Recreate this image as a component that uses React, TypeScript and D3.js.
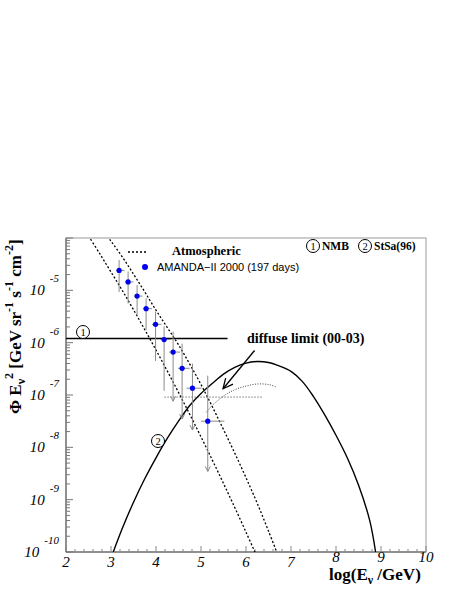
import * as d3 from "d3";

const W = 460;
const H = 595;
const frame = { left: 66, right: 426, top: 238, bottom: 552 };

const xTickValues = [2, 3, 4, 5, 6, 7, 8, 9, 10];
const xTickRaised = [8, 9, 10];
const yTickExp = [-10, -9, -8, -7, -6, -5];

// AMANDA-II 2000 points, log10(E/GeV) and log10(flux)
const amLogE = [3.18, 3.38, 3.58, 3.78, 3.99, 4.18, 4.38, 4.58, 4.81, 5.15];
const amLogElo = [3.11, 3.31, 3.51, 3.71, 3.91, 4.1, 4.29, 4.49, 4.68, 5.0];
const amLogEhi = [3.3, 3.5, 3.7, 3.91, 4.12, 4.33, 4.54, 4.75, 5.01, 5.52];
const amLogF = [-4.62, -4.84, -5.11, -5.35, -5.65, -5.94, -6.18, -6.49, -6.87, -7.5];
const amLogFup = [-4.42, -4.64, -4.9, -5.15, -5.41, -5.69, -5.79, -6.02, -6.4, -6.63];
const amLogFdown = [-5.03, -5.25, -5.48, -5.76, -6.35, -6.92, -7.12, -7.46, -7.67, -8.46];
const amArrow = [false, false, false, false, false, false, true, true, true, true];

// atmospheric band (two dashed curves)
const atmLowE = [2.5, 2.75, 3.0, 3.25, 3.5, 3.75, 4.0, 4.25, 4.5, 4.75, 5.0, 5.25, 5.5, 5.75, 6.0, 6.25];
const atmLowF = [-3.96, -4.3, -4.65, -5.0, -5.37, -5.75, -6.14, -6.54, -6.95, -7.37, -7.8, -8.24, -8.69, -9.15, -9.62, -10.1];
const atmHighE = [2.75, 3.0, 3.25, 3.5, 3.75, 4.0, 4.25, 4.5, 4.75, 5.0, 5.25, 5.5, 5.75, 6.0, 6.25, 6.5, 6.75];
const atmHighF = [-3.78, -4.06, -4.36, -4.69, -5.03, -5.38, -5.71, -6.04, -6.41, -6.8, -7.22, -7.66, -8.11, -8.58, -9.07, -9.6, -10.15];

// StSa(96) model
const stsaE = [3.05, 3.25, 3.5, 3.75, 4.0, 4.25, 4.5, 4.75, 5.0, 5.25, 5.5, 5.75, 6.0, 6.25, 6.5, 6.75, 7.0, 7.25, 7.5, 7.75, 8.0, 8.25, 8.5, 8.75, 8.88];
const stsaF = [-10.0, -9.55, -9.05, -8.6, -8.2, -7.83, -7.5, -7.2, -6.97, -6.78, -6.6, -6.47, -6.39, -6.36, -6.38, -6.45, -6.55, -6.74, -7.03, -7.38, -7.77, -8.2, -8.72, -9.4, -10.0];

// NMB bound
const nmbE = [2, 5.59];
const nmbF = -5.92;

// diffuse limit (00-03)
const limitE = [4.19, 6.37];
const limitF = -7.04;
const limitCurveE = [5.12, 5.25, 5.5, 5.75, 6.0, 6.25, 6.5, 6.68];
const limitCurveF = [-7.33, -7.2, -7.02, -6.9, -6.83, -6.79, -6.8, -6.85];
const arrowFrom = [6.19, -6.15];
const arrowTo = [5.49, -6.88];

const serif = "'Liberation Serif', 'Times New Roman', serif";
const sans = "'Liberation Sans', Arial, sans-serif";

function Circled({ x, y, n }: { x: number; y: number; n: string }) {
  return (
    <g>
      <circle cx={x} cy={y} r={6.5} fill="white" stroke="#000" strokeWidth={1} />
      <text x={x} y={y + 3.8} fontSize={10.5} fontFamily={serif} textAnchor="middle">
        {n}
      </text>
    </g>
  );
}

export default function App() {
  const x = d3.scaleLinear().domain([2, 10]).range([frame.left, frame.right]);
  const y = d3.scaleLog().domain([1e-10, 1e-4]).range([frame.bottom, frame.top]);
  const yl = (v: number) => y(Math.pow(10, v));

  const line = d3
    .line<[number, number]>()
    .x((d) => x(d[0]))
    .y((d) => yl(d[1]))
    .curve(d3.curveCatmullRom);

  const atmLow = line(atmLowE.map((e, i) => [e, atmLowF[i]]));
  const atmHigh = line(atmHighE.map((e, i) => [e, atmHighF[i]]));
  const stsa = line(stsaE.map((e, i) => [e, stsaF[i]]));
  const limitCurve = line(limitCurveE.map((e, i) => [e, limitCurveF[i]]));

  const xMinor = x.ticks(40);
  const yAll = y.ticks();

  // arrow for the diffuse limit label
  const ax0 = x(arrowFrom[0]), ay0 = yl(arrowFrom[1]);
  const ax1 = x(arrowTo[0]), ay1 = yl(arrowTo[1]);
  const ang = Math.atan2(ay1 - ay0, ax1 - ax0);
  const hl = 11;
  const head = [ang + Math.PI - 0.45, ang + Math.PI + 0.45].map((a) => [ax1 + hl * Math.cos(a), ay1 + hl * Math.sin(a)]);

  return (
    <svg width={W} height={H} style={{ position: "absolute", left: 0, top: 0, background: "white" }}>
      <defs>
        <clipPath id="plot">
          <rect x={frame.left} y={frame.top} width={frame.right - frame.left} height={frame.bottom - frame.top} />
        </clipPath>
      </defs>

      {/* frame */}
      <rect x={frame.left} y={frame.top} width={frame.right - frame.left} height={frame.bottom - frame.top} fill="none" stroke="#999" strokeWidth={1} />
      <line x1={frame.left} x2={frame.right} y1={frame.bottom} y2={frame.bottom} stroke="#555" />
      <line x1={frame.left} x2={frame.left} y1={frame.top} y2={frame.bottom} stroke="#555" />

      {/* x ticks */}
      {xMinor.map((t) => {
        const major = Math.abs(t - Math.round(t)) < 1e-6;
        return <line key={"xt" + t} x1={x(t)} x2={x(t)} y1={frame.bottom} y2={frame.bottom - (major ? 6 : 3)} stroke="#888" />;
      })}
      {xTickValues.map((t) => (
        <text key={"xl" + t} x={x(t)} y={xTickRaised.includes(t) ? 562 : 567} fontSize={15} fontStyle="italic" fontFamily={serif} textAnchor="middle">
          {t}
        </text>
      ))}

      {/* y ticks */}
      {yAll.map((t) => {
        const lg = Math.log10(t);
        const major = Math.abs(lg - Math.round(lg)) < 1e-6;
        return <line key={"yt" + t} x1={frame.left} x2={frame.left + (major ? 7 : 4)} y1={y(t)} y2={y(t)} stroke="#777" />;
      })}
      {yTickExp.map((e) => (
        <text key={"yl" + e} x={59} y={yl(e) + 5} fontSize={15} fontStyle="italic" fontFamily={serif} textAnchor="end">
          10
          <tspan dx={5} dy={-13} fontSize={11}>
            {e}
          </tspan>
        </text>
      ))}

      {/* axis titles */}
      <text x={329} y={580} fontSize={17} fontWeight="bold" fontFamily={serif}>
        log(E
        <tspan dy={4} fontSize={12}>ν</tspan>
        <tspan dy={-4}> /GeV)</tspan>
      </text>
      <text transform="translate(21,414) rotate(-90)" fontSize={17} fontWeight="bold" fontFamily={serif}>
        Φ E
        <tspan dy={4} fontSize={12}>ν</tspan>
        <tspan dy={-12} fontSize={12}>2</tspan>
        <tspan dy={8}> [GeV sr</tspan>
        <tspan dy={-8} fontSize={12}>-1</tspan>
        <tspan dy={8}> s</tspan>
        <tspan dy={-8} fontSize={12}>-1</tspan>
        <tspan dy={8}> cm</tspan>
        <tspan dy={-8} fontSize={12}>-2</tspan>
        <tspan dy={8}>]</tspan>
      </text>

      <g clipPath="url(#plot)">
        {/* atmospheric */}
        <path d={atmLow ?? ""} fill="none" stroke="#000" strokeWidth={1.3} strokeDasharray="2,2" />
        <path d={atmHigh ?? ""} fill="none" stroke="#000" strokeWidth={1.3} strokeDasharray="2,2" />

        {/* NMB */}
        <line x1={x(nmbE[0])} x2={x(nmbE[1])} y1={yl(nmbF)} y2={yl(nmbF)} stroke="#000" strokeWidth={1.5} />

        {/* StSa */}
        <path d={stsa ?? ""} fill="none" stroke="#000" strokeWidth={1.4} />

        {/* diffuse limit */}
        <line x1={x(limitE[0])} x2={x(limitE[1])} y1={yl(limitF)} y2={yl(limitF)} stroke="#333" strokeWidth={1} strokeDasharray="1,2" />
        <path d={limitCurve ?? ""} fill="none" stroke="#444" strokeWidth={1} strokeDasharray="1,1.5" />

        {/* AMANDA error bars */}
        {amLogE.map((e, i) => {
          const cx = x(e);
          const yd = yl(amLogFdown[i]);
          return (
            <g key={"eb" + i} stroke="#8a8a8a" strokeWidth={1} fill="none">
              <line x1={cx} x2={cx} y1={yl(amLogFup[i])} y2={yd} />
              <line x1={x(amLogElo[i])} x2={x(amLogEhi[i])} y1={yl(amLogF[i])} y2={yl(amLogF[i])} />
              {amArrow[i] && <path d={`M${cx - 2.5},${yd - 5}L${cx},${yd}L${cx + 2.5},${yd - 5}`} />}
            </g>
          );
        })}
        {amLogE.map((e, i) => (
          <circle key={"pt" + i} cx={x(e)} cy={yl(amLogF[i])} r={2.6} fill="#0000ee" />
        ))}

        {/* arrow */}
        <line x1={ax0} y1={ay0} x2={ax1} y2={ay1} stroke="#000" strokeWidth={1.3} />
        <path d={`M${head[0][0]},${head[0][1]}L${ax1},${ay1}L${head[1][0]},${head[1][1]}`} fill="none" stroke="#000" strokeWidth={1.3} />
      </g>

      {/* labels */}
      <Circled x={83} y={332} n="1" />
      <Circled x={158} y={441} n="2" />
      <text x={247} y={343} fontSize={14} fontWeight="bold" fontFamily={serif}>
        diffuse limit (00-03)
      </text>

      {/* legend */}
      <line x1={128} x2={146} y1={252} y2={252} stroke="#000" strokeWidth={1.3} strokeDasharray="2,2" />
      <text x={172} y={255} fontSize={12.5} fontWeight="bold" fontFamily={serif}>
        Atmospheric
      </text>
      <circle cx={145} cy={267} r={3} fill="#0000ee" />
      <text x={157} y={271} fontSize={11} fontFamily={sans}>
        AMANDA−II 2000 (197 days)
      </text>
      <Circled x={313} y={246} n="1" />
      <text x={322} y={250} fontSize={11.5} fontWeight="bold" fontFamily={serif}>
        NMB
      </text>
      <Circled x={365} y={246} n="2" />
      <text x={374} y={250} fontSize={11.5} fontWeight="bold" fontFamily={serif}>
        StSa(96)
      </text>
    </svg>
  );
}
